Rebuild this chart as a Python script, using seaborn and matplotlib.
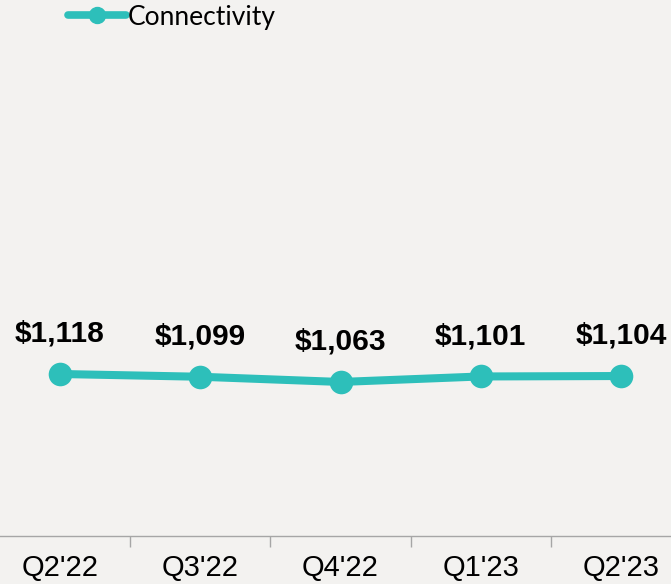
import pandas as pd
import numpy as np
import matplotlib.pyplot as plt
import seaborn as sns

quarters = ["Q2'22", "Q3'22", "Q4'22", "Q1'23", "Q2'23"]
connectivity = [1118, 1099, 1063, 1101, 1104]
series_name = "Connectivity"

teal = "#2dbfba"
bg = "#f3f2f0"

sns.set_theme(style="white")
plt.rcParams["font.family"] = ["Liberation Sans", "DejaVu Sans"]

df = pd.DataFrame({"quarter": quarters, "value": connectivity, "series": series_name})
df["pos"] = np.arange(len(quarters))

fig = plt.figure(figsize=(6.71, 5.84), dpi=100, facecolor=bg)
ax = fig.add_axes([0, (584 - 536) / 584, 1, 536 / 584])
ax.set_facecolor(bg)

sns.lineplot(data=df, x="pos", y="value", hue="series", palette=[teal],
             marker="o", markersize=17, linewidth=5.8, markeredgewidth=0,
             ax=ax, legend=False)

for x, v in zip(df["pos"], df["value"]):
    ax.annotate(f"${v:,}", (x, v), xytext=(0, 29), textcoords="offset points",
                ha="center", va="center", fontsize=21.5, fontweight="bold", color="black")

ax.set_xlim(-0.428, 4.356)
ax.set_ylim(0, 3699)
ax.set_yticks([])
ax.set_xticks(df["pos"])
ax.set_xticklabels(quarters, fontsize=21, color="black")
ax.tick_params(axis="x", which="major", length=0, pad=13)
ax.set_xticks(np.arange(0.5, len(quarters) - 1, 1), minor=True)
ax.tick_params(axis="x", which="minor", bottom=True, length=8, width=1, color="#a6a6a6", direction="out")
ax.set_xlabel("")
ax.set_ylabel("")
for s in ["top", "left", "right"]:
    ax.spines[s].set_visible(False)
ax.spines["bottom"].set_color("#a6a6a6")
ax.spines["bottom"].set_linewidth(1)

handle = plt.Line2D([], [], color=teal, linewidth=5.5, marker="o", markersize=11.5)
leg = fig.legend([handle], [series_name], loc="center left", bbox_to_anchor=(68 / 671, 1 - 17 / 584),
                 frameon=False, handlelength=2.2, handletextpad=0.05, borderaxespad=0, borderpad=0,
                 prop={"family": ["Lato", "DejaVu Sans"], "size": 19})
for t in leg.get_texts():
    t.set_color("black")

fig.savefig("out.png", dpi=100, facecolor=bg)
